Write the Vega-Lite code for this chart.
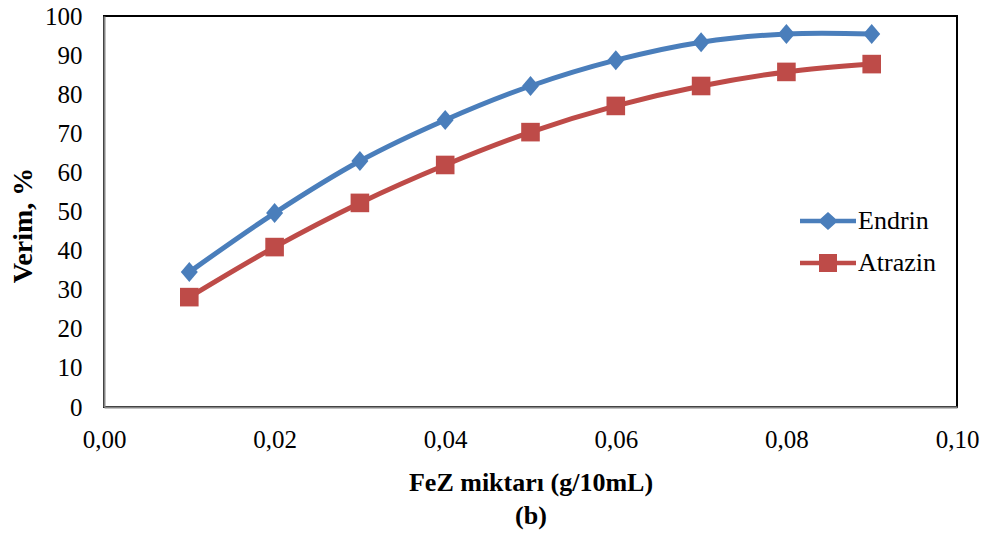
{
  "$schema": "https://vega.github.io/schema/vega-lite/v6.json",
  "autosize": "none",
  "width": 853,
  "height": 391,
  "padding": {"left": 104, "top": 16, "right": 37, "bottom": 126},
  "background": "white",
  "config": {
    "font": "Liberation Serif, Times New Roman, serif",
    "view": {"stroke": "black", "strokeWidth": 2},
    "axis": {"labelFont": "Liberation Serif, Times New Roman, serif", "titleFont": "Liberation Serif, Times New Roman, serif", "labelColor": "black", "titleColor": "black", "labelFontSize": 25, "titleFontSize": 26, "titleFontWeight": "bold", "grid": false, "ticks": false, "domainColor": "#868686", "domainWidth": 2}
  },
  "data": {"values": [
    {"x": 0.01, "y": 34.5, "s": "Endrin"},
    {"x": 0.02, "y": 49.6, "s": "Endrin"},
    {"x": 0.03, "y": 62.9, "s": "Endrin"},
    {"x": 0.04, "y": 73.4, "s": "Endrin"},
    {"x": 0.05, "y": 82.1, "s": "Endrin"},
    {"x": 0.06, "y": 88.7, "s": "Endrin"},
    {"x": 0.07, "y": 93.3, "s": "Endrin"},
    {"x": 0.08, "y": 95.4, "s": "Endrin"},
    {"x": 0.09, "y": 95.4, "s": "Endrin"},
    {"x": 0.01, "y": 28.1, "s": "Atrazin"},
    {"x": 0.02, "y": 40.9, "s": "Atrazin"},
    {"x": 0.03, "y": 52.2, "s": "Atrazin"},
    {"x": 0.04, "y": 61.9, "s": "Atrazin"},
    {"x": 0.05, "y": 70.3, "s": "Atrazin"},
    {"x": 0.06, "y": 77.0, "s": "Atrazin"},
    {"x": 0.07, "y": 82.1, "s": "Atrazin"},
    {"x": 0.08, "y": 85.7, "s": "Atrazin"},
    {"x": 0.09, "y": 87.7, "s": "Atrazin"}
  ]},
  "encoding": {
    "x": {"field": "x", "type": "quantitative", "scale": {"domain": [0, 0.1], "nice": false, "zero": false},
      "axis": {"values": [0, 0.02, 0.04, 0.06, 0.08, 0.1], "labelExpr": "replace(format(datum.value, '.2f'), '.', ',')", "labelPadding": 20, "title": ["FeZ miktarı (g/10mL)", "(b)"], "titleLineHeight": 33, "titlePadding": 17, "labelFlush": false}},
    "y": {"field": "y", "type": "quantitative", "scale": {"domain": [0, 100], "nice": false},
      "axis": {"values": [0, 10, 20, 30, 40, 50, 60, 70, 80, 90, 100], "labelPadding": 22, "title": "Verim, %", "titleFontSize": 28, "titleX": -81, "titleY": 209, "titleBaseline": "middle", "titleAlign": "center", "titleAngle": -90}}
  },
  "layer": [
    {
      "mark": {"type": "line", "interpolate": "catmull-rom", "strokeWidth": 5, "strokeCap": "round"},
      "encoding": {
        "color": {"field": "s", "type": "nominal", "scale": {"domain": ["Endrin", "Atrazin"], "range": ["#4A7EBB", "#BE4B48"]},
          "legend": {"orient": "none", "legendX": 711, "legendY": 192, "title": null, "padding": 0, "labelFont": "Liberation Serif, Times New Roman, serif", "labelFontSize": 26, "labelColor": "black", "symbolSize": 400, "labelOffset": 17, "rowPadding": 16,
            "encode": {"symbols": {"update": {
              "shape": {"signal": "datum.value === 'Endrin' ? 'M-2.8,-0.22H-0.75L0,-0.9L0.75,-0.22H2.8V0.22H0.75L0,0.9L-0.75,0.22H-2.8Z' : 'M-2.8,-0.22H-0.9V-0.9H0.9V-0.22H2.8V0.22H0.9V0.9H-0.9V0.22H-2.8Z'"},
              "fill": {"signal": "datum.value === 'Endrin' ? '#4A7EBB' : '#BE4B48'"},
              "fillOpacity": {"value": 1},
              "strokeWidth": {"value": 0},
              "opacity": {"value": 1}
            }}}}
        }
      }
    },
    {
      "transform": [{"filter": "datum.s === 'Endrin'"}],
      "mark": {"type": "point", "filled": true, "opacity": 1, "size": 400, "shape": "M0,-1L0.85,0L0,1L-0.85,0Z", "color": "#4A7EBB"}
    },
    {
      "transform": [{"filter": "datum.s === 'Atrazin'"}],
      "mark": {"type": "point", "filled": true, "opacity": 1, "size": 400, "shape": "M-0.93,-0.93H0.93V0.93H-0.93Z", "color": "#BE4B48"}
    }
  ]
}
